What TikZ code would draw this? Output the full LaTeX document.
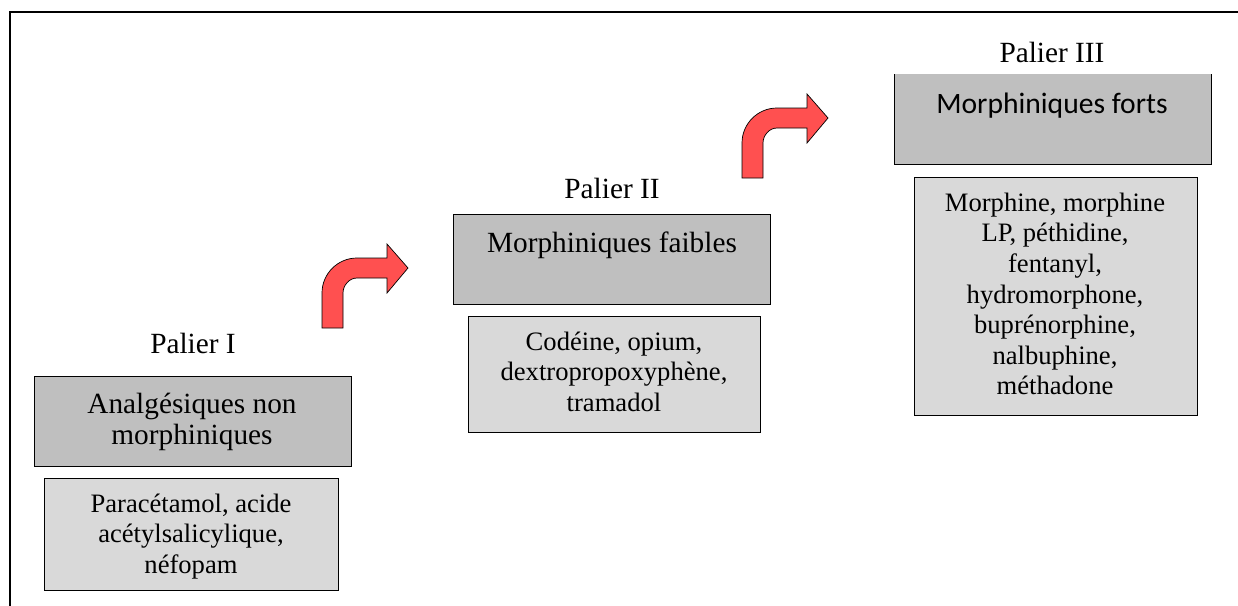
\documentclass[tikz,border=0pt]{standalone}
\usepackage{fontspec}
\setmainfont{Liberation Serif}
\newfontfamily\calibfont{Carlito}
\definecolor{boxdark}{HTML}{BFBFBF}
\definecolor{boxlight}{HTML}{D9D9D9}
\definecolor{arrowred}{HTML}{FF5050}
\tikzset{
  frameline/.style={line width=2pt, line join=miter},
  boxbase/.style={draw=black, line width=0.9pt, inner sep=0pt, outer sep=0pt, anchor=north west},
  darkbox/.style={boxbase, fill=boxdark},
  lightbox/.style={boxbase, fill=boxlight},
  lbl/.style={font=\fontsize{29.3}{31}\selectfont, inner sep=0pt, align=center},
  lst/.style={font=\fontsize{26.6}{30.6}\selectfont, inner sep=0pt, align=center, anchor=north},
  bentarrow/.pic={
    \fill[arrowred, draw=black, line width=0.7pt, line join=miter]
      (0,0) -- (0,-35) .. controls (0,-54.3) and (15.7,-70) .. (35,-70)
      -- (65,-70) -- (65,-84) -- (86,-60) -- (65,-35) -- (65,-50) -- (35,-50)
      .. controls (27.3,-50) and (21,-42.7) .. (21,-35) -- (21,0) -- cycle;
  }
}
\begin{document}
\begin{tikzpicture}[x=1pt,y=-1pt]
\useasboundingbox (0,0) rectangle (1238,605);
% frame
\draw[frameline] (10,606) -- (10,12) -- (1239,12);
% Palier I
\node[darkbox, minimum width=317pt, minimum height=90pt] (d1) at (34,376) {};
\node[lightbox, minimum width=294pt, minimum height=112pt] (l1) at (44,478) {};
\node[lbl, anchor=base] (p1) at (193,353) {Palier I};
\node[lbl, anchor=north] (t1) at (192,391.3) {\strut Analgésiques non\\morphiniques};
\node[lst] (m1) at (191,490.6) {\strut Paracétamol, acide\\acétylsalicylique,\\néfopam};
% Palier II
\node[darkbox, minimum width=317pt, minimum height=90pt] (d2) at (453,214) {};
\node[lightbox, minimum width=292pt, minimum height=116pt] (l2) at (468,316) {};
\node[lbl, anchor=base] (p2) at (612,198) {Palier II};
\node[lbl, anchor=base] (t2) at (612,252) {Morphiniques faibles};
\node[lst] (m2) at (614,328.6) {\strut Codéine, opium,\\dextropropoxyphène,\\tramadol};
% Palier III
\node[boxbase, draw=none, fill=boxdark, minimum width=317pt, minimum height=90pt] (d3) at (894,74) {};
\draw[line width=0.9pt] (d3.north west) -- (d3.south west) -- (d3.south east) -- (d3.north east);
\node[lightbox, minimum width=283pt, minimum height=238pt] (l3) at (914,177) {};
\node[lbl, anchor=base] (p3) at (1052,62) {Palier III};
\node[font=\calibfont\fontsize{29.6}{34}\selectfont, inner sep=0pt, anchor=base] (t3) at (1052,113) {Morphiniques forts};
\node[lst] (m3) at (1055,189.6) {\strut Morphine, morphine\\LP, péthidine,\\fentanyl,\\hydromorphone,\\buprénorphine,\\nalbuphine,\\méthadone};
% arrows
\pic at (322,328) {bentarrow};
\pic at (742,178) {bentarrow};
\end{tikzpicture}
\end{document}
